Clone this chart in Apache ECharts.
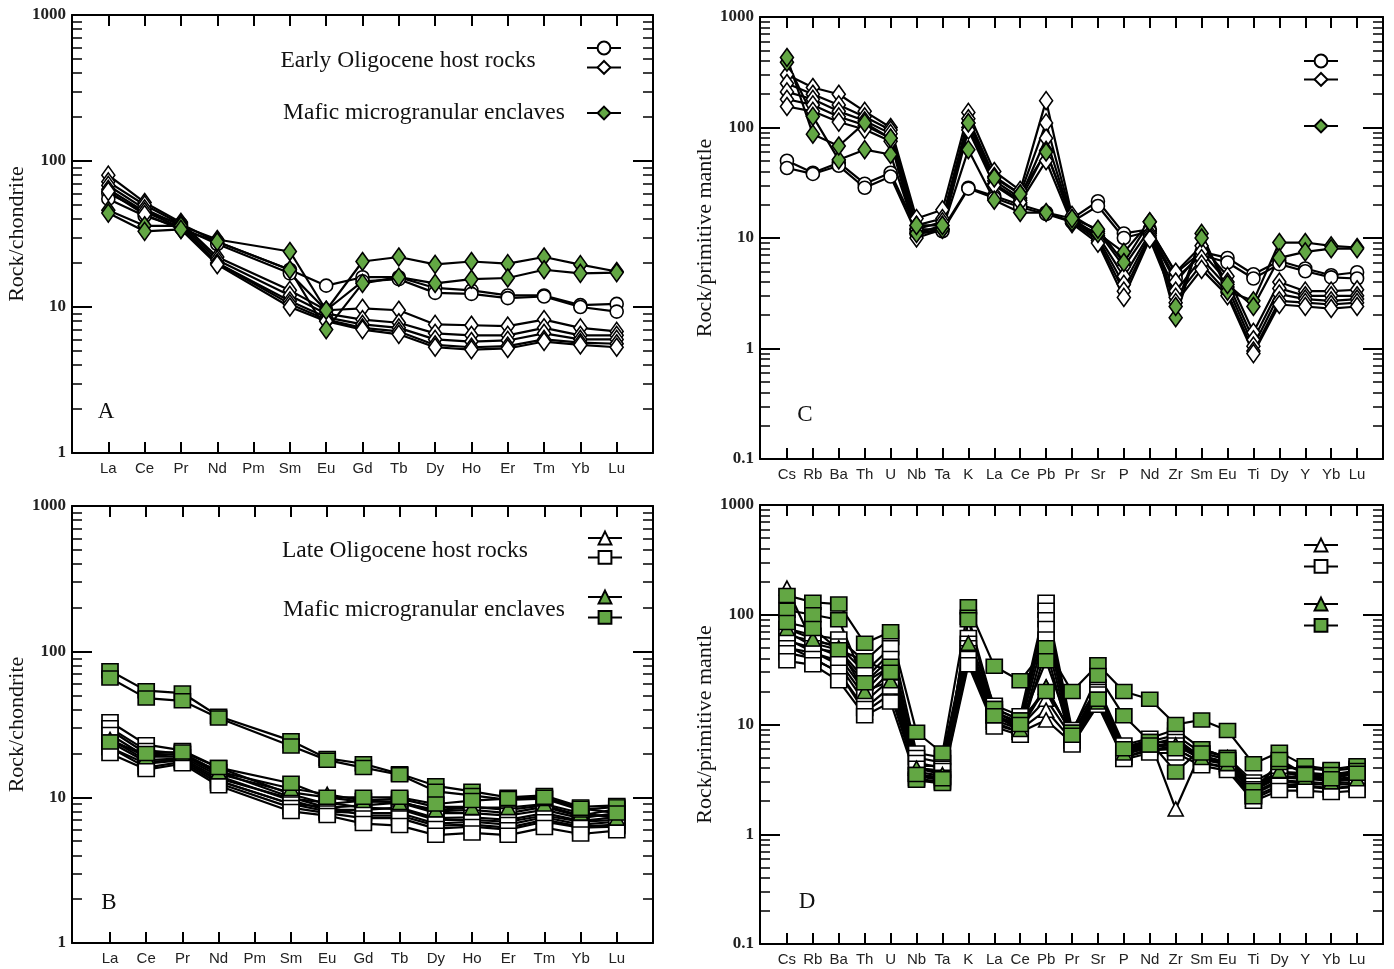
<!DOCTYPE html>
<html>
<head>
<meta charset="utf-8">
<script src="https://cdn.jsdelivr.net/npm/echarts@6/dist/echarts.min.js"></script>
<style>
  html, body { margin: 0; padding: 0; background: #fff; }
  #chart { width: 1394px; height: 969px; }
</style>
</head>
<body>
<div id="chart"></div>
<script>
// Element orders for the two diagram types
const reeElements = ['La', 'Ce', 'Pr', 'Nd', 'Pm', 'Sm', 'Eu', 'Gd', 'Tb', 'Dy', 'Ho', 'Er', 'Tm', 'Yb', 'Lu'];
const spiderElements = ['Cs', 'Rb', 'Ba', 'Th', 'U', 'Nb', 'Ta', 'K', 'La', 'Ce', 'Pb', 'Pr', 'Sr', 'P', 'Nd', 'Zr', 'Sm', 'Eu', 'Ti', 'Dy', 'Y', 'Yb', 'Lu'];

// A: chondrite-normalised REE, Early Oligocene suite (Pm not analysed)
const eoCircleREE = [
  [60, 45, 37, 28, null, 18, 14, 16, 16, 13.5, 13, 12, 12, 10.3, 10.5],
  [55, 42, 35, 27, null, 17, 9.5, 15, 15.5, 12.5, 12.3, 11.5, 11.8, 10, 9.3]
];
const eoDiamondREE = [
  [80, 52, 38, 22, null, 13, 9.5, 9.8, 9.5, 7.6, 7.5, 7.4, 8.2, 7.2, 6.8],
  [72, 50, 37, 21, null, 12, 9, 8.2, 7.8, 6.6, 6.4, 6.4, 7.2, 6.4, 6.4],
  [68, 47, 36, 20, null, 11, 8.5, 7.6, 7.2, 6.0, 5.8, 5.9, 6.6, 6.0, 6.0],
  [64, 45, 35, 20, null, 10.5, 8.2, 7.2, 6.8, 5.5, 5.3, 5.4, 6.0, 5.7, 5.6],
  [62, 43, 34, 19.5, null, 10, 8, 7.0, 6.5, 5.3, 5.1, 5.2, 5.8, 5.5, 5.3]
];
const eoEnclaveREE = [
  [46, 36, 36, 29, null, 24, 9.5, 20.5, 22, 19.6, 20.5, 19.8, 22, 19.5, 17.5],
  [44, 33, 34, 28, null, 18, 7, 14.5, 16, 14.5, 15.5, 15.8, 18, 17, 17.2]
];

// B: chondrite-normalised REE, Late Oligocene suite
const loTriangleREE = [
  [29, 20, 19.5, 14.5, null, 10.8, 10, 9.3, 9.4, 8.0, 8.2, 7.8, 8.6, 7.4, 7.6],
  [25, 18, 18.5, 13.5, null, 9.8, 9.2, 8.5, 8.3, 7.0, 7.0, 6.8, 7.5, 6.8, 7.0],
  [22, 17, 18, 13, null, 9, 8.6, 7.5, 7.5, 6.4, 6.5, 6.2, 7.0, 6.3, 6.5]
];
const loSquareREE = [
  [33, 23, 21, 16, null, 10.5, 9, 9.5, 9.8, 8.6, 8.6, 8.2, 8.8, 7.5, 8.3],
  [30, 21, 20, 15, null, 10, 8.5, 8.8, 9.2, 7.8, 7.8, 7.5, 8.2, 7.2, 7.8],
  [27, 19, 19, 14, null, 9.5, 8.2, 8.2, 8.5, 7.2, 7.3, 7.0, 7.8, 6.9, 7.3],
  [24, 17.5, 18, 13, null, 9, 8, 7.8, 7.8, 6.6, 6.8, 6.5, 7.3, 6.5, 6.8],
  [22, 16, 17.5, 12.5, null, 8.5, 7.8, 7.2, 7.2, 6.1, 6.3, 6.0, 6.8, 6.2, 6.3],
  [20, 15.5, 17, 12, null, 8, 7.5, 6.6, 6.4, 5.5, 5.7, 5.5, 6.2, 5.6, 5.9]
];
const loEnclaveTriangleREE = [
  [25, 19, 20, 15, null, 11.5, 10.5, 9.5, 9.2, 8.2, 8.5, 8.5, 9, 7.8, 7.2]
];
const loEnclaveSquareREE = [
  [74, 54, 52, 36, null, 24.5, 18.5, 17, 14.5, 12, 11, 10, 10.3, 8.6, 8.8],
  [66, 48, 46, 35, null, 22.5, 18, 16, 14.3, 11, 10.3, 9.6, 9.8, 8.2, 8.6],
  [24, 20, 20.5, 16, null, 12.5, 10, 10, 10, 9, 9.5, 9.8, 10, 8.4, 7.8]
];

// C: primitive-mantle-normalised trace elements, Early Oligocene suite
const eoCircleSpider = [
  [50, 39, 48, 31, 39, 12, 12, 28.5, 24, 20, 17, 15, 21.5, 11, 12, 4.8, 7.5, 6.6, 4.7, 6.2, 5.3, 4.6, 4.9],
  [43, 38, 45, 28.5, 36, 11, 11.5, 28, 23, 19, 16.5, 14, 19.5, 10, 11.5, 4.3, 7, 6, 4.3, 5.8, 5.0, 4.4, 4.3]
];
const eoDiamondSpider = [
  [300, 230, 200, 140, 100, 15, 18, 137, 40, 27, 175, 16, 11.5, 5.5, 12, 4.9, 8.5, 4.5, 1.4, 4.0, 3.3, 3.3, 3.4],
  [250, 200, 160, 125, 95, 13, 15, 120, 36, 25, 110, 15, 10.5, 4.5, 11, 4.0, 7.5, 4.0, 1.2, 3.5, 3.0, 3.0, 3.0],
  [210, 180, 140, 115, 88, 12, 14, 110, 33, 23, 80, 14.5, 10, 3.8, 10.5, 3.3, 6.5, 3.6, 1.05, 3.1, 2.8, 2.7, 2.8],
  [180, 160, 125, 105, 80, 11, 13, 100, 31, 22, 62, 14, 9.5, 3.3, 10, 2.9, 5.8, 3.2, 0.95, 2.7, 2.6, 2.5, 2.6],
  [155, 140, 112, 96, 75, 10, 12, 95, 30, 21, 50, 13.5, 9, 2.9, 9.8, 2.6, 5.2, 3.0, 0.9, 2.5, 2.4, 2.3, 2.4]
];
const eoEnclaveSpider = [
  [390, 126, 51, 63, 57, 11, 12, 63, 22, 17, 17, 14, 11, 7.4, 14, 1.9, 11, 3.3, 2.7, 9.1, 9.1, 8.5, 8.2],
  [430, 87, 68, 110, 80, 13, 13, 110, 35, 25, 60, 15, 12, 6.0, 14, 2.4, 10, 3.8, 2.4, 6.6, 7.5, 8.0, 8.0]
];

// D: primitive-mantle-normalised trace elements, Late Oligocene suite
const loTriangleSpider = [
  [175, 55, 48, 26, 45, 4.2, 4.2, 52, 13, 10, 22, 8, 21, 6.2, 7.2, 1.7, 5.8, 5, 2.7, 3.6, 3.5, 3.4, 3.5],
  [70, 52, 42, 20, 35, 4, 3.7, 48, 12, 9.5, 17, 7.6, 18, 5.6, 6.6, 7.5, 5.0, 4.6, 2.5, 3.3, 3.2, 3.1, 3.2],
  [60, 46, 35, 16, 26, 3.7, 3.4, 43, 11, 9, 13.5, 7.2, 17, 5.3, 6.2, 7, 4.8, 4.4, 2.3, 3.0, 2.9, 2.8, 2.9],
  [52, 40, 30, 13, 19, 3.4, 3.1, 38, 10, 8.5, 11, 6.8, 15.5, 5.0, 5.8, 6, 4.5, 4.0, 2.1, 2.7, 2.7, 2.6, 2.7]
];
const loSquareSpider = [
  [75, 65, 60, 38, 62, 5.5, 5, 62, 15, 12, 130, 9, 22, 6.5, 7.5, 9, 6, 5, 3, 4, 4, 3.8, 4],
  [65, 58, 52, 30, 50, 5, 4.5, 55, 14, 11, 110, 8.5, 20, 6, 7, 8, 5.5, 4.8, 2.8, 3.7, 3.6, 3.5, 3.6],
  [58, 50, 45, 24, 40, 4.5, 4, 50, 13, 10.5, 90, 8, 19, 5.8, 6.8, 7, 5.2, 4.5, 2.6, 3.4, 3.3, 3.2, 3.3],
  [50, 45, 38, 18, 30, 4, 3.8, 45, 12, 9.5, 75, 7.5, 17, 5.5, 6.3, 6.5, 4.8, 4.3, 2.4, 3.1, 3.0, 2.9, 3.0],
  [45, 40, 30, 14, 22, 3.5, 3.3, 40, 10.5, 8.5, 60, 7, 16, 5, 6, 6, 4.5, 4.1, 2.2, 2.8, 2.8, 2.6, 2.8],
  [38, 35, 25, 12, 16, 3.2, 3, 35, 9.5, 8, 48, 6.5, 15, 4.8, 5.5, 5.5, 4.2, 3.8, 2.0, 2.5, 2.5, 2.4, 2.5]
];
const loEnclaveTriangleSpider = [
  [75, 60, 50, 20, 25, 4, 3.5, 55, 12, 9, 22, 8, 16, 5.5, 6.5, 6.5, 5, 4.4, 2.4, 3.8, 3.3, 3.0, 3.2]
];
const loEnclaveSquareSpider = [
  [150, 130, 125, 55, 70, 8.5, 5.5, 118, 34, 25, 50, 20, 35, 20, 17, 10, 11, 8.8, 4.4, 5.6, 4.2, 3.9, 4.2],
  [110, 100, 90, 24, 34, 3.1, 2.9, 95, 14, 11, 20, 8.5, 28, 12, 7, 3.7, 6, 5, 2.5, 4.5, 3.6, 3.5, 3.8],
  [85, 75, 48, 38, 30, 3.5, 3.2, 90, 12, 10, 38, 8, 17, 6, 6.5, 6, 5.5, 4.8, 2.2, 4.8, 3.5, 3.2, 3.6]
];

const GREEN = '#63a744';
const SERIF = '"Liberation Serif", "DejaVu Serif", serif';
const NARROW = '"Liberation Sans Narrow", "Liberation Sans", Arial, sans-serif';

const SHAPES = {
  circle:   { symbol: 'circle',   size: 13 },
  diamond:  { symbol: 'diamond',  size: [13, 18] },
  triangle: { symbol: 'triangle', size: [15, 14] },
  square:   { symbol: 'rect',     size: [16, 14] }
};

// Panel frames: bottom/top x axes and left/right log y axes per grid
const panels = [
  { grid: { left: 72, top: 15, width: 581, height: 438 }, cats: reeElements, xmin: -1.0, xmax: 15.0, ymin: 1, ymax: 1000, yname: 'Rock/chondrite', nameGap: 42 },
  { grid: { left: 72, top: 506, width: 581, height: 437 }, cats: reeElements, xmin: -1.05, xmax: 15.0, ymin: 1, ymax: 1000, yname: 'Rock/chondrite', nameGap: 42 },
  { grid: { left: 760, top: 17, width: 623, height: 442 }, cats: spiderElements, xmin: -1.04, xmax: 23.0, ymin: 0.1, ymax: 1000, yname: 'Rock/primitive mantle', nameGap: 42 },
  { grid: { left: 760, top: 505, width: 623, height: 439 }, cats: spiderElements, xmin: -1.04, xmax: 23.0, ymin: 0.1, ymax: 1000, yname: 'Rock/primitive mantle', nameGap: 42 }
];

const grids = [], xAxes = [], yAxes = [];
panels.forEach((p, g) => {
  grids.push(Object.assign({ containLabel: false }, p.grid));
  const idx = p.cats.map((c, i) => i);
  const xBase = (pos, labels) => ({
    gridIndex: g, type: 'value', position: pos, min: p.xmin, max: p.xmax,
    axisLine: { show: true, onZero: false, lineStyle: { color: '#000', width: 2 } },
    axisTick: { show: true, inside: true, length: 11, customValues: idx, lineStyle: { color: '#000', width: 2 } },
    axisLabel: labels ? {
      show: true, customValues: idx, margin: 8,
      formatter: v => p.cats[Math.round(v)],
      fontFamily: NARROW, fontSize: 15, color: '#222'
    } : { show: false },
    splitLine: { show: false }
  });
  xAxes.push(xBase('bottom', true), xBase('top', false));
  const yBase = (pos, labels) => ({
    gridIndex: g, type: 'log', logBase: 10, min: p.ymin, max: p.ymax, position: pos,
    name: labels ? p.yname : '', nameLocation: 'middle', nameGap: p.nameGap, nameRotate: 90,
    nameTextStyle: { fontFamily: SERIF, fontSize: 22, color: '#111' },
    axisLine: { show: true, onZero: false, lineStyle: { color: '#000', width: 2 } },
    axisTick: { show: true, inside: true, length: 20, lineStyle: { color: '#000', width: 2 } },
    minorTick: { show: true, splitNumber: 9, length: 10, lineStyle: { color: '#000', width: 1.5 } },
    axisLabel: labels ? {
      show: true, fontFamily: SERIF, fontSize: 17, fontWeight: 'bold', color: '#222', margin: 6,
      formatter: v => String(v)
    } : { show: false },
    splitLine: { show: false }, minorSplitLine: { show: false }
  });
  yAxes.push(yBase('left', true), yBase('right', false));
});

const series = [];
function addGroup(g, name, rows, shape, filled) {
  rows.forEach(row => {
    series.push({
      type: 'line', name: name, xAxisIndex: 2 * g, yAxisIndex: 2 * g,
      data: row.map((v, i) => [i, v]).filter(d => d[1] != null),
      symbol: SHAPES[shape].symbol, symbolSize: SHAPES[shape].size,
      showSymbol: true, silent: true,
      lineStyle: { color: '#000', width: 2.2 },
      itemStyle: { color: filled ? GREEN : '#fff', borderColor: '#000', borderWidth: 1.6, opacity: 1 },
      emphasis: { disabled: true }
    });
  });
}

addGroup(0, 'A host ○', eoCircleREE, 'circle', false);
addGroup(0, 'A host ◇', eoDiamondREE, 'diamond', false);
addGroup(0, 'A enclave ◆', eoEnclaveREE, 'diamond', true);

addGroup(1, 'B host △', loTriangleREE, 'triangle', false);
addGroup(1, 'B host □', loSquareREE, 'square', false);
addGroup(1, 'B enclave ▲', loEnclaveTriangleREE, 'triangle', true);
addGroup(1, 'B enclave ■', loEnclaveSquareREE, 'square', true);

addGroup(2, 'C host ○', eoCircleSpider, 'circle', false);
addGroup(2, 'C host ◇', eoDiamondSpider, 'diamond', false);
addGroup(2, 'C enclave ◆', eoEnclaveSpider, 'diamond', true);

addGroup(3, 'D host △', loTriangleSpider, 'triangle', false);
addGroup(3, 'D host □', loSquareSpider, 'square', false);
addGroup(3, 'D enclave ▲', loEnclaveTriangleSpider, 'triangle', true);
addGroup(3, 'D enclave ■', loEnclaveSquareSpider, 'square', true);

// Symbol keys: line-through-marker icons, text set separately
function legendBox(left, top, gap, names) {
  return {
    orient: 'vertical', left: left, top: top, padding: 0, itemGap: gap,
    itemWidth: 34, itemHeight: 16, selectedMode: false,
    data: names, formatter: () => '', textStyle: { fontSize: 1 }
  };
}
const legends = [
  legendBox(586, 40, 4, ['A host ○', 'A host ◇']),
  legendBox(586, 105, 4, ['A enclave ◆']),
  legendBox(587, 530, 4, ['B host △', 'B host □']),
  legendBox(587, 589, 5, ['B enclave ▲', 'B enclave ■']),
  legendBox(1303, 53, 3, ['C host ○', 'C host ◇']),
  legendBox(1303, 118, 4, ['C enclave ◆']),
  legendBox(1303, 537, 6, ['D host △', 'D host □']),
  legendBox(1303, 596, 6, ['D enclave ▲', 'D enclave ■'])
];

function label(text, x, y, size) {
  return {
    type: 'text', x: x, y: y, silent: true,
    style: { text: text, font: size + 'px ' + SERIF, fill: '#111', align: 'center', verticalAlign: 'middle' }
  };
}
const texts = [
  label('Early Oligocene host rocks', 408, 61, 23.5),
  label('Mafic microgranular enclaves', 424, 113, 23.5),
  label('Late Oligocene host rocks', 405, 551, 23.5),
  label('Mafic microgranular enclaves', 424, 610, 23.5),
  label('A', 106, 412, 23),
  label('B', 109, 903, 23),
  label('C', 805, 415, 23),
  label('D', 807, 902, 23)
];

const chart = echarts.init(document.getElementById('chart'), null, { renderer: 'canvas' });
chart.setOption({
  animation: false,
  backgroundColor: '#fff',
  grid: grids,
  xAxis: xAxes,
  yAxis: yAxes,
  legend: legends,
  graphic: texts,
  series: series
});
</script>
</body>
</html>
